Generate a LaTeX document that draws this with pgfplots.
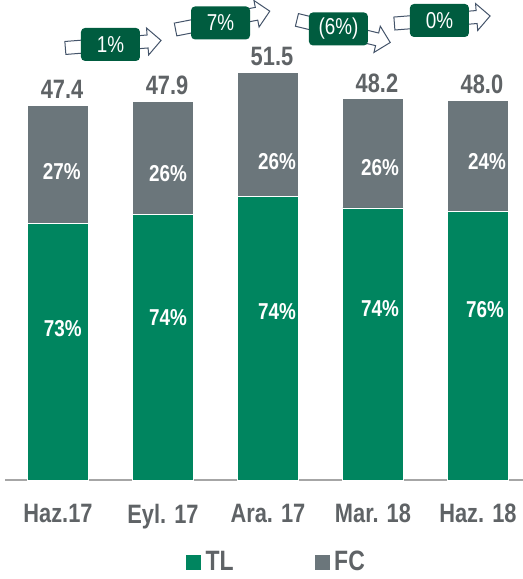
\documentclass[border=0pt]{standalone}
\usepackage{fontspec}
\setmainfont{Liberation Sans}[FakeStretch=0.82]
\usepackage{pgfplots}
\usepackage{pgfplotstable}
\pgfplotsset{compat=1.18}
\usetikzlibrary{shapes.arrows}

\definecolor{tlgreen}{HTML}{00855F}
\definecolor{fcgray}{HTML}{6B767B}
\definecolor{labgray}{HTML}{5F6366}
\definecolor{boxgreen}{HTML}{005C3F}
\definecolor{arrowc}{HTML}{44546A}
\definecolor{axisgray}{HTML}{A6A6A6}

% TL and FC segment heights as drawn, totals as labelled
\pgfplotstableread{
x tl fc total
0 32.4 15.0 47.4
1 33.6 14.3 47.9
2 35.9 15.6 51.5
3 34.4 13.8 48.2
4 34.0 14.0 48.0
}\datatable

\tikzset{
  growarrow/.style={single arrow, draw=arrowc, fill=white, line width=0.5pt,
    inner sep=3pt, minimum height=48pt, single arrow head extend=3.5pt},
  growbox/.style={fill=boxgreen, rounded corners=2pt, minimum width=29.5pt,
    minimum height=16.5pt, inner sep=0pt, text=white, font=\fontsize{11.5}{12}\selectfont},
  pct/.style={text=white, font=\fontsize{11.5}{12}\selectfont\bfseries},
  totlab/.style={anchor=south, inner sep=0pt, yshift=3pt, xshift=2pt,
    text=labgray, font=\fontsize{13.3}{14}\selectfont\bfseries}
}

\begin{document}
\begin{tikzpicture}
\begin{axis}[
    scale only axis,
    width=259pt, height=240pt,
    xmin=-0.505, xmax=4.4286,
    ymin=0, ymax=60.68,
    ybar stacked,
    bar width=30.5pt,
    clip=false,
    axis x line*=bottom,
    axis y line=none,
    x axis line style={-, draw=axisgray, line width=1pt},
    xtick={0,1,2,3,4},
    xticklabels={Haz.17, Eyl. 17, Ara. 17, Mar. 18, Haz. 18},
    major tick length=0pt,
    xticklabel style={anchor=north, inner sep=0pt, yshift=-12pt,
        text=labgray, font=\fontsize{13.3}{14}\selectfont\bfseries},
    ytick=\empty,
    legend columns=2,
    legend style={draw=none, fill=none, at={(0.525,-0.171)}, anchor=center,
        font=\fontsize{14}{15}\selectfont\bfseries, text=labgray,
        nodes={inner sep=2pt},
        /tikz/every even column/.append style={column sep=38pt}},
    legend image code/.code={\fill[#1] (0pt,-4pt) rectangle (8pt,4pt);},
]
\addplot[fill=tlgreen, draw=white, line width=0.3pt] table[x=x, y=tl] {\datatable};
\addplot[fill=fcgray, draw=white, line width=0.3pt] table[x=x, y=fc] {\datatable};
\legend{TL, FC}

% totals above each bar, read from the table
\pgfplotsinvokeforeach{0,...,4}{
  \pgfplotstablegetelem{#1}{total}\of\datatable
  \edef\tmp{\noexpand\coordinate (s#1) at (axis cs:#1,\pgfplotsretval);}\tmp
  \expandafter\xdef\csname tot#1\endcsname{\pgfplotsretval}
}

% anchor points for the share labels and growth callouts
\coordinate (t0) at (axis cs:0.045,19.09);
\coordinate (t1) at (axis cs:1.048,20.48);
\coordinate (t2) at (axis cs:2.086,21.28);
\coordinate (t3) at (axis cs:3.067,21.62);
\coordinate (t4) at (axis cs:4.067,21.49);
\coordinate (f0) at (axis cs:0.035,38.98);
\coordinate (f1) at (axis cs:1.048,38.69);
\coordinate (f2) at (axis cs:2.086,40.24);
\coordinate (f3) at (axis cs:3.067,39.44);
\coordinate (f4) at (axis cs:4.086,40.20);
\coordinate (a1) at (axis cs:0.495,55.06);
\coordinate (a2) at (axis cs:1.538,58.03);
\coordinate (a3) at (axis cs:2.69,56.83);
\coordinate (a4) at (axis cs:3.629,58.15);
\coordinate (b1) at (axis cs:0.50,55.06);
\coordinate (b2) at (axis cs:1.548,57.78);
\coordinate (b3) at (axis cs:2.671,57.02);
\coordinate (b4) at (axis cs:3.633,58.09);

% full picture extent
\coordinate (bbl) at (axis cs:-0.5524,-12.52);
\coordinate (bbr) at (axis cs:4.4286,60.68);
\end{axis}

\foreach \i in {0,...,4}{
  \node[totlab] at (s\i) {\csname tot\i\endcsname};
}

\node[pct] at (t0) {73\%};
\node[pct] at (t1) {74\%};
\node[pct] at (t2) {74\%};
\node[pct] at (t3) {74\%};
\node[pct] at (t4) {76\%};
\node[pct] at (f0) {27\%};
\node[pct] at (f1) {26\%};
\node[pct] at (f2) {26\%};
\node[pct] at (f3) {26\%};
\node[pct] at (f4) {24\%};

\node[growarrow, rotate=4.5] at (a1) {};
\node[growarrow, rotate=11] at (a2) {};
\node[growarrow, rotate=-13.6] at (a3) {};
\node[growarrow, rotate=4.5] at (a4) {};
\node[growbox] at (b1) {1\%};
\node[growbox] at (b2) {7\%};
\node[growbox] at (b3) {(6\%)};
\node[growbox] at (b4) {0\%};

\pgfresetboundingbox
\path (bbl) rectangle (bbr);
\end{tikzpicture}
\end{document}
